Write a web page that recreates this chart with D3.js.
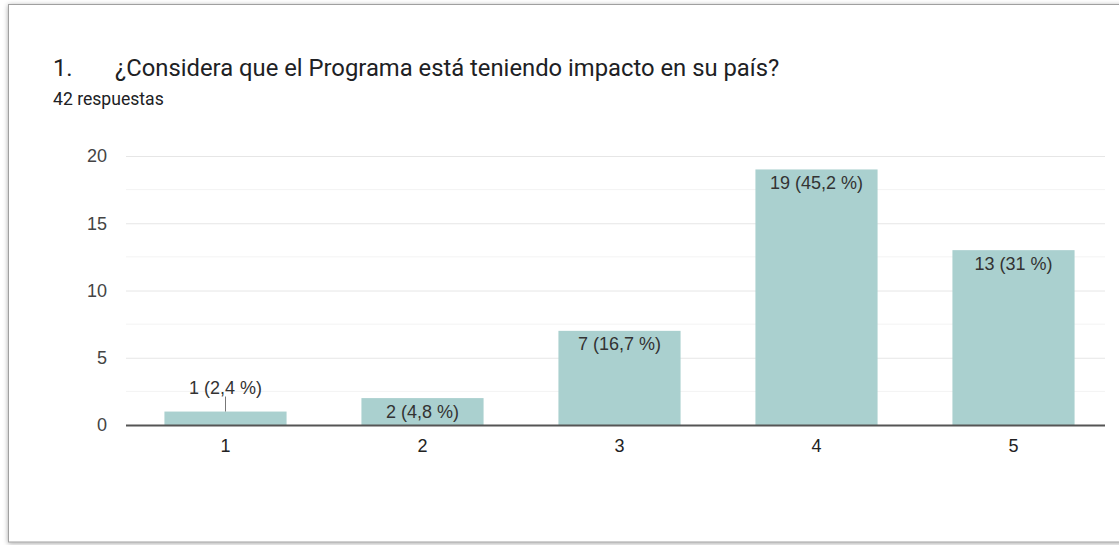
<!DOCTYPE html>
<html><head><meta charset="utf-8">
<script src="https://cdn.jsdelivr.net/npm/d3@7"></script>
<style>
html,body{margin:0;padding:0;background:#fff;}
svg{display:block;font-family:"Liberation Sans",Arial,sans-serif;}
</style></head>
<body>
<svg id="chart" width="1119" height="545"></svg>
<script>
const categories = ["1","2","3","4","5"];
const counts = [1, 2, 7, 19, 13];
const labels = ["1 (2,4 %)", "2 (4,8 %)", "7 (16,7 %)", "19 (45,2 %)", "13 (31 %)"];
const yTicks = [0, 5, 10, 15, 20];
const minorTicks = [2.5, 7.5, 12.5, 17.5];
const titleText = "¿Considera que el Programa está teniendo impacto en su país?";
const subtitleText = "42 respuestas";

const chartFont = "'Liberation Sans',Arial,sans-serif";
const headFont = "Roboto,'Liberation Sans',Arial,sans-serif";
const svg = d3.select("#chart");
const defs = svg.append("defs");
const f = defs.append("filter").attr("id","sh").attr("x","-5%").attr("y","-5%").attr("width","110%").attr("height","110%");
f.append("feDropShadow").attr("dx",0).attr("dy",1).attr("stdDeviation",2.5).attr("flood-color","#000").attr("flood-opacity",0.35);

svg.append("rect").attr("x",8.5).attr("y",4.5).attr("width",1125).attr("height",537.5)
  .attr("fill","#fff").attr("stroke","#a0a0a0").attr("stroke-width",1).attr("filter","url(#sh)");

svg.append("text").attr("x",53).attr("y",76).attr("font-family",headFont).attr("font-size",23.8).attr("fill","#202124").text("1.");
svg.append("text").attr("x",115).attr("y",76).attr("font-family",headFont).attr("font-size",23.8).attr("fill","#202124").text(titleText);
svg.append("text").attr("x",53).attr("y",105).attr("font-family",headFont).attr("font-size",17.6).attr("fill","#202124").text(subtitleText);

const x = d3.scaleBand().domain(categories).range([127,1112]).paddingInner(0.38).paddingOuter(0.19);
const y = d3.scaleLinear().domain([0,20]).range([425,156]);
const gridX0 = 126, gridX1 = 1105;

svg.append("g").selectAll("line").data(minorTicks).join("line")
  .attr("x1",gridX0).attr("x2",gridX1).attr("y1",d=>y(d)).attr("y2",d=>y(d))
  .attr("stroke","#f3f3f3").attr("stroke-width",1);

const yAxis = d3.axisLeft(y).tickValues(yTicks).tickSize(-(gridX1-gridX0)).tickPadding(19);
const gy = svg.append("g").attr("transform",`translate(${gridX0},0)`).call(yAxis);
gy.select(".domain").remove();
gy.selectAll(".tick line").attr("stroke","#e6e6e6");
gy.selectAll(".tick text").attr("font-size",18).attr("fill","#444").attr("font-family",chartFont);

svg.append("g").selectAll("rect").data(counts).join("rect")
  .attr("x",(d,i)=>x(categories[i])).attr("width",x.bandwidth())
  .attr("y",d=>y(d)).attr("height",d=>y(0)-y(d)).attr("fill","#aad0cf");

svg.append("line").attr("x1",gridX0).attr("x2",gridX1).attr("y1",y(0)+0.5).attr("y2",y(0)+0.5)
  .attr("stroke","#555").attr("stroke-width",2);

const xAxis = d3.axisBottom(x).tickSize(0).tickPadding(0);
const gx = svg.append("g").attr("transform",`translate(0,${y(0)})`).call(xAxis);
gx.select(".domain").remove();
gx.selectAll(".tick text").attr("dy",null).attr("y",27).attr("font-size",18).attr("fill","#222").attr("font-family",chartFont);

const lab = svg.append("g").attr("font-family",chartFont);
counts.forEach((d,i)=>{
  const cx = x(categories[i]) + x.bandwidth()/2;
  const inside = (y(0)-y(d)) > 24;
  if (inside) {
    lab.append("text").attr("x",cx).attr("y",y(d)+19.5).attr("text-anchor","middle")
      .attr("font-size",18).attr("fill","#333").text(labels[i]);
  } else {
    lab.append("line").attr("x1",cx).attr("x2",cx).attr("y1",y(d)).attr("y2",y(d)-15)
      .attr("stroke","#777").attr("stroke-width",1);
    lab.append("text").attr("x",cx).attr("y",y(d)-17.5).attr("text-anchor","middle")
      .attr("font-size",18).attr("fill","#333").text(labels[i]);
  }
});
</script>
</body></html>
